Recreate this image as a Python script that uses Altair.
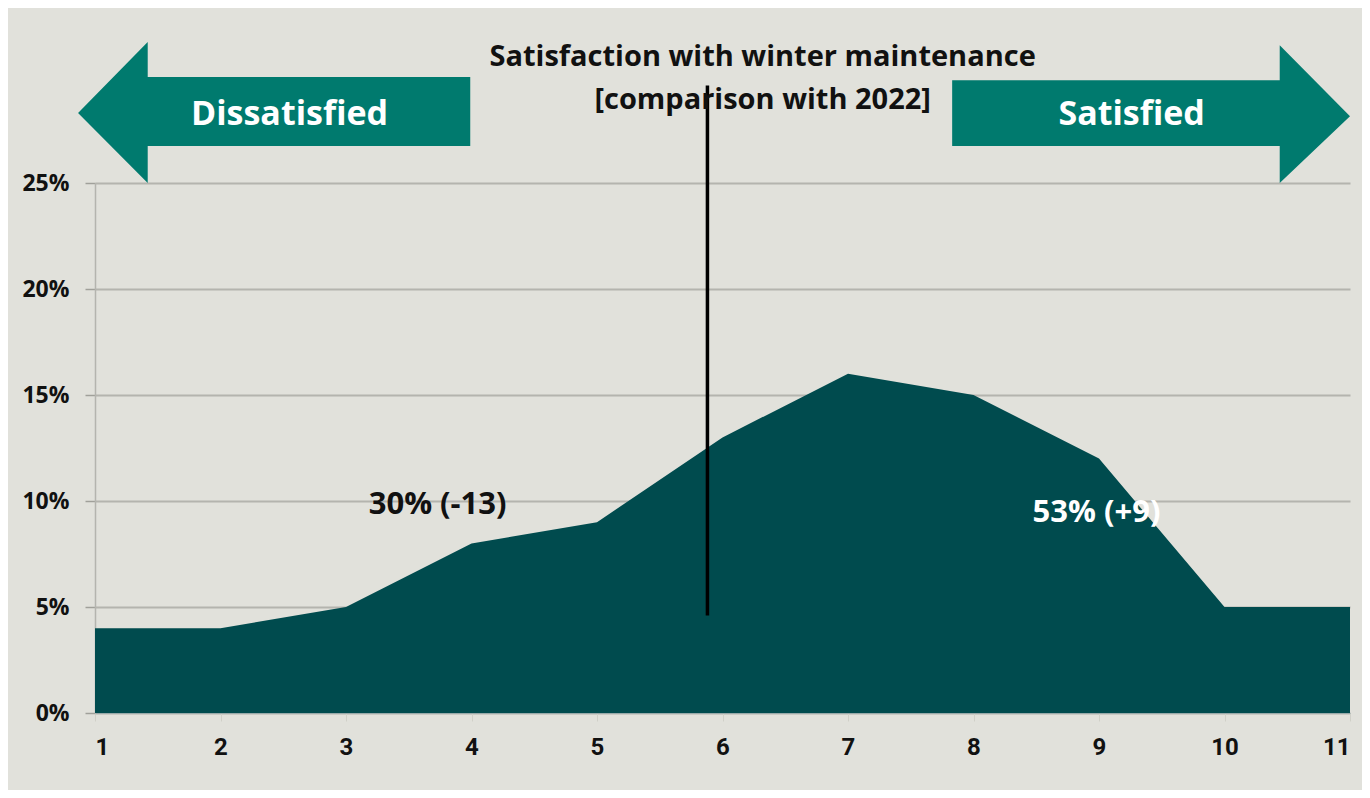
import altair as alt
import pandas as pd

# Data
scores = [1, 2, 3, 4, 5, 6, 7, 8, 9, 10, 11]
shares = [4, 4, 5, 8, 9, 13, 16, 15, 12, 5, 5]
y_ticks = [0, 5, 10, 15, 20, 25]

title_lines = ["Satisfaction with winter maintenance", "[comparison with 2022]"]
left_label = "Dissatisfied"
right_label = "Satisfied"
dissat_note = "30% (-13)"
sat_note = "53% (+9)"

BG = "#e1e1db"
AREA = "#004b4e"
ARROW = "#007a6e"

df = pd.DataFrame({"score": scores, "share": shares})

x_scale = alt.Scale(domain=[1, 11], nice=False, zero=False)
y_scale = alt.Scale(domain=[0, 25], nice=False)

base_x = alt.X("score:Q", scale=x_scale,
               axis=alt.Axis(values=scores, format="d", title=None, grid=False,
                             labelFontSize=24, labelFont="Roboto",
                             labelFontWeight="bold", labelColor="#111",
                             tickColor="#d0d0c8", tickSize=8, labelPadding=14,
                             domainColor="#9aa", domainWidth=1))
base_y = alt.Y("share:Q", scale=y_scale,
               axis=alt.Axis(values=y_ticks, labelExpr="datum.value + '%'", title=None,
                             grid=True, gridColor="#b4b4ae", gridWidth=2,
                             labelFontSize=23, labelFont="Open Sans",
                             labelFontWeight="bold", labelColor="#111",
                             tickColor="#a0a09a", tickSize=10, tickWidth=1.5,
                             labelPadding=16,
                             domainColor="#b4b4ae", domainWidth=1.5))

area = alt.Chart(df).mark_area(color=AREA, opacity=1).encode(x=base_x, y=base_y)

# Arrow decorations (shape outlines in data units)
left_arrow = pd.DataFrame({
    "ax": [0.865, 1.42, 1.42, 3.99],
    "lo": [28.3, 25.0, 26.75, 26.75],
    "hi": [28.3, 31.65, 30.0, 30.0],
})
right_arrow = pd.DataFrame({
    "ax": [7.83, 10.44, 10.44, 11.0],
    "lo": [26.75, 26.75, 25.0, 28.15],
    "hi": [29.85, 29.85, 31.5, 28.15],
})

def arrow(d):
    return alt.Chart(d).mark_area(color=ARROW, opacity=1, clip=False).encode(
        x=alt.X("ax:Q", scale=x_scale),
        y=alt.Y("lo:Q", scale=y_scale),
        y2="hi:Q",
    )

divider = alt.Chart(pd.DataFrame({"vx": [5.88], "y1": [4.6], "y2": [29.6]})).mark_rule(
    color="black", strokeWidth=3.5, clip=False).encode(
    x=alt.X("vx:Q", scale=x_scale), y=alt.Y("y1:Q", scale=y_scale), y2="y2:Q")

def text(txt, tx, ty, color, size, font="Open Sans"):
    return alt.Chart(pd.DataFrame({"t": [txt], "tx": [tx], "ty": [ty]})).mark_text(
        color=color, fontSize=size, fontWeight="bold", font=font,
        align="center", baseline="middle", clip=False).encode(
        x=alt.X("tx:Q", scale=x_scale), y=alt.Y("ty:Q", scale=y_scale), text="t:N")

layers = [
    area,
    arrow(left_arrow),
    arrow(right_arrow),
    divider,
    text(left_label, 2.55, 28.2, "white", 34),
    text(right_label, 9.26, 28.2, "white", 34),
    text(title_lines[0], 6.32, 30.95, "#111", 29),
    text(title_lines[1], 6.32, 28.9, "#111", 29),
    text(dissat_note, 3.73, 9.8, "#111", 31),
    text(sat_note, 8.98, 9.45, "white", 31),
]

chart = alt.layer(*layers).properties(
    width=1255, height=530,
    autosize=alt.AutoSizeParams(type="none"),
    padding={"left": 87, "top": 175, "right": 12, "bottom": 77},
    background=BG,
).configure_view(stroke=None)

chart.save("out.html", embed_options={"renderer": "svg", "actions": False})
